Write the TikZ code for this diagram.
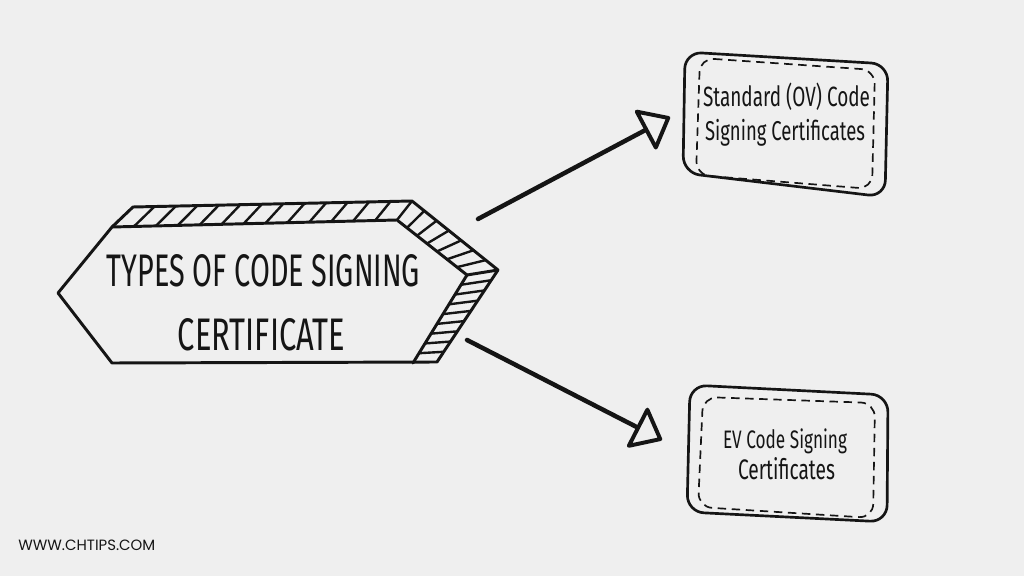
\documentclass[tikz,border=0pt]{standalone}
\usepackage{fontspec}
\usetikzlibrary{arrows.meta,calc}
\newfontfamily\handA[FakeStretch=0.62]{Fira Sans}
\newfontfamily\handB[FakeStretch=0.68]{Fira Sans}
\newfontfamily\webf{Poppins}
\definecolor{bg}{HTML}{EFEFEF}
\definecolor{ink}{HTML}{151515}
\newlength\px
\setlength\px{0.025cm}
\begin{document}
\begin{tikzpicture}[x=0.025cm,y=-0.025cm,
  outline/.style={draw=ink, line width=2.1pt, line join=round, line cap=round},
  hatch/.style={draw=ink, line width=1.7pt, line cap=round},
  boxouter/.style={draw=ink, line width=1.9pt, rounded corners=12pt, line join=round},
  boxinner/.style={draw=ink, line width=1.2pt, dash pattern=on 6pt off 4pt, rounded corners=10pt},
  conn/.style={draw=ink, line width=3.2pt, line cap=round,
    -{Triangle[open, length=0.75cm, width=1.2cm, line width=2.8pt, round]}},
  txt/.style={inner sep=0pt, anchor=base, text=ink}]
\useasboundingbox (0,0) rectangle (1024,576);
\fill[bg] (0,0) rectangle (1024,576);

% hexagon banner
\coordinate (L) at (58,293);
\coordinate (A) at (112,227);
\coordinate (B) at (397,220);
\coordinate (P) at (467,275);
\coordinate (Q) at (413,363);
\coordinate (R) at (437,362);
\coordinate (E) at (112,363);
\coordinate (C) at (133,207);
\coordinate (D) at (412,201);
\coordinate (T) at (498,270);

\foreach \i in {1,...,12} \draw[hatch] ($(A)!{\i/13}!(B)$) -- ($(C)!{\i/13}!(D)$);
\foreach \i in {0,...,6} \draw[hatch] ($(B)!{\i/7}!(P)$) -- ($(D)!{\i/7}!(T)$);
\foreach \i in {1,...,8} \draw[hatch] ($(P)!{\i/9}!(Q)$) -- ($(T)!{\i/9}!(R)$);

\draw[outline] (L) -- (A) -- (C) -- (D) -- (T) -- (R) -- (E) -- cycle;
\draw[outline] (A) -- (B) -- (P) -- (Q);
\draw[outline] (P) -- (T);

\node[txt] (t1) at (263.5,287) {\resizebox{313\px}{32\px}{\handA TYPES OF CODE SIGNING}};
\node[txt] (t2) at (261.5,350) {\resizebox{167\px}{32\px}{\handA CERTIFICATE}};

% upper box
\draw[boxouter] (685,52) -- (888,64) -- (885,197) -- (683,173) -- cycle;
\draw[boxinner] (700,58) -- (875,70) -- (872,189) -- (696,175) -- cycle;
\node[txt] (ov1) at (786.5,107) {\resizebox{167\px}{!}{\handB Standard (OV) Code}};
\node[txt] (ov2) at (785,141) {\resizebox{160\px}{!}{\handB Signing Certificates}};

% lower box
\draw[boxouter] (690,385) -- (888,395) -- (887,522) -- (687,512) -- cycle;
\draw[boxinner] (703,397) -- (875,403) -- (873,518) -- (698,507) -- cycle;
\node[txt] (ev1) at (785,448) {\resizebox{124\px}{!}{\handB EV Code Signing}};
\node[txt] (ev2) at (786.5,479) {\resizebox{97\px}{!}{\handB Certificates}};

% connectors
\coordinate (a1s) at (478,219);
\coordinate (a1e) at (670,117);
\coordinate (a2s) at (467,340);
\coordinate (a2e) at (662,440);
\draw[conn] (a1s) -- (a1e);
\draw[conn] (a2s) -- (a2e);

% watermark
\node[inner sep=0pt, anchor=base west, text=ink] (web) at (18,550) {\resizebox{137\px}{!}{\webf WWW.CHTIPS.COM}};
\end{tikzpicture}
\end{document}
